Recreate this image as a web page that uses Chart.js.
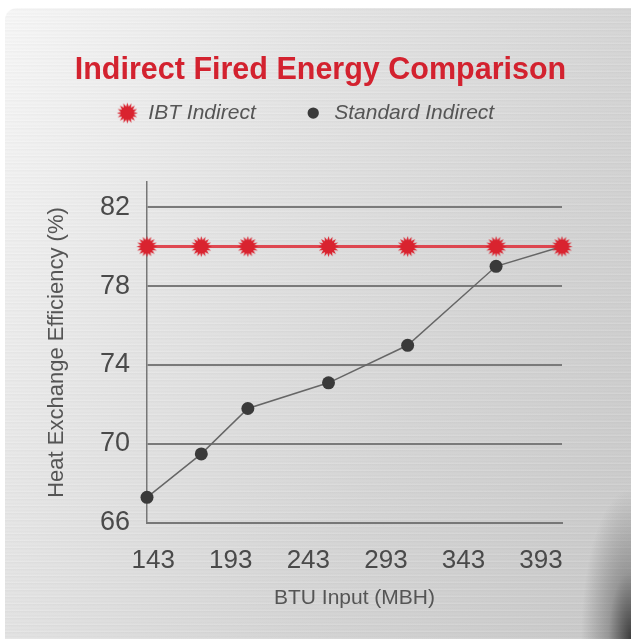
<!DOCTYPE html>
<html>
<head>
<meta charset="utf-8">
<script src="https://cdn.jsdelivr.net/npm/chart.js@4.4.0/dist/chart.umd.min.js"></script>
<style>
  html, body { margin: 0; padding: 0; width: 631px; height: 639px; background: #fff; overflow: hidden; }
  #panel {
    position: absolute; left: 5px; top: 8px; right: 0; bottom: 0;
    border-top-left-radius: 12px;
    background:
      radial-gradient(ellipse 50px 150px at 100% 100%, rgba(45,45,45,0.9) 0%, rgba(90,90,90,0.45) 45%, rgba(0,0,0,0) 100%),
      repeating-linear-gradient(0deg, rgba(255,255,255,0.10) 0px, rgba(255,255,255,0.10) 1px, rgba(0,0,0,0.025) 2px, rgba(0,0,0,0) 4px, rgba(0,0,0,0.03) 7px),
      linear-gradient(120deg, #f7f7f7 0%, #e4e4e4 35%, #d6d6d6 65%, #c9c9c9 100%);
  }
  #wrap { position: absolute; left: 0; top: 0; width: 631px; height: 639px; }
</style>
</head>
<body>
<div id="panel"></div>
<div id="wrap"><canvas id="chart" width="631" height="639"></canvas></div>
<script>
// data
const btuInput = [139, 174, 204, 256, 307, 364, 406.5];
const ibtEfficiency = [80, 80, 80, 80, 80, 80, 80];
const standardEfficiency = [67.3, 69.5, 71.8, 73.1, 75.0, 79.0, 80.0];
const xTicks = [143, 193, 243, 293, 343, 393];
const yTicks = [66, 70, 74, 78, 82];

const FONT = '"Liberation Sans Narrow", "Liberation Sans", Arial, sans-serif';
const TEXT = '#4a4a4a';

// red sunburst marker
function sunburst(r, color) {
  const c = document.createElement('canvas');
  const s = Math.ceil(r * 2 + 2);
  c.width = c.height = s;
  const g = c.getContext('2d');
  g.translate(s / 2, s / 2);
  g.beginPath();
  const n = 16;
  for (let i = 0; i < n * 2; i++) {
    const a = i * Math.PI / n;
    const rr = i % 2 ? r * 0.62 : r;
    g.lineTo(Math.cos(a) * rr, Math.sin(a) * rr);
  }
  g.closePath();
  g.fillStyle = color;
  g.fill();
  return c;
}
const star = sunburst(10.5, '#d9232f');

const TITLE_FONT = 30.5;
const TITLE_PAD = { top: 52, bottom: 5 };
const TITLE_H = TITLE_PAD.top + TITLE_FONT * 1.2 + TITLE_PAD.bottom;
const CHART_TOP = 182;
const LEGEND_DX = -15;
const LEGEND_DY = -38;

// legend height fills the gap down to the plot; legend nudged up and a bit left of the title
const legendGap = {
  id: 'legendGap',
  beforeInit(chart) {
    const fit = chart.legend.fit;
    chart.legend.fit = function () {
      fit.call(this);
      this.height = CHART_TOP - TITLE_H;
    };
  },
  afterLayout(chart) {
    const lg = chart.legend;
    lg.left += LEGEND_DX;
    lg.right += LEGEND_DX;
    lg.top += LEGEND_DY;
    lg.bottom += LEGEND_DY;
  }
};

const toPoints = ys => btuInput.map((x, i) => ({ x, y: ys[i] }));

new Chart(document.getElementById('chart'), {
  type: 'line',
  data: {
    datasets: [
      {
        label: 'IBT Indirect',
        data: toPoints(ibtEfficiency),
        borderColor: 'rgba(222,45,55,0.85)',
        backgroundColor: '#d9232f',
        borderWidth: 3,
        pointStyle: star,
        pointRadius: 10,
        pointHoverRadius: 10,
        tension: 0,
        clip: false
      },
      {
        label: 'Standard Indirect',
        data: toPoints(standardEfficiency),
        borderColor: '#666',
        backgroundColor: '#3a3a3a',
        borderWidth: 1.5,
        pointStyle: 'circle',
        pointRadius: 6.5,
        pointHoverRadius: 6.5,
        pointBackgroundColor: '#3a3a3a',
        pointBorderWidth: 0,
        tension: 0,
        clip: false
      }
    ]
  },
  options: {
    responsive: false,
    animation: false,
    layout: { padding: { left: 10, right: 0, top: 0, bottom: 0 } },
    plugins: {
      tooltip: { enabled: false },
      title: {
        display: true,
        text: 'Indirect Fired Energy Comparison',
        color: '#d3222f',
        font: { family: FONT, size: TITLE_FONT, weight: 'bold' },
        padding: TITLE_PAD
      },
      legend: {
        labels: {
          usePointStyle: true,
          boxHeight: 8,
          padding: 47,
          color: '#555',
          font: { family: FONT, size: 21, style: 'italic' },
          generateLabels(chart) {
            const items = Chart.defaults.plugins.legend.labels.generateLabels(chart);
            items.forEach(it => { it.lineWidth = 0; });
            return items;
          }
        }
      }
    },
    scales: {
      x: {
        type: 'linear',
        min: 139,
        max: 406.5,
        afterBuildTicks: s => { s.ticks = xTicks.map(v => ({ value: v })); },
        afterFit: s => { s.height = 116; },
        grid: { display: false, drawTicks: false },
        border: { display: true, color: '#777', width: 2 },
        ticks: { color: TEXT, font: { family: FONT, size: 26 }, padding: 22, maxRotation: 0, autoSkip: false },
        title: {
          display: true,
          text: 'BTU Input (MBH)',
          color: '#555',
          font: { family: FONT, size: 21 },
          padding: { top: 0, bottom: 28 }
        }
      },
      y: {
        min: 66,
        max: 83.27,
        afterBuildTicks: s => { s.ticks = yTicks.map(v => ({ value: v })); },
        afterFit: s => { s.width = 137; },
        grid: { color: '#7a7a7a', lineWidth: 2, drawTicks: false },
        border: { display: true, color: '#777', width: 1.5 },
        ticks: { color: TEXT, font: { family: FONT, size: 27 }, padding: 17 },
        title: {
          display: true,
          text: 'Heat Exchange Efficiency (%)',
          color: '#555',
          font: { family: FONT, size: 22 },
          padding: { top: 34, bottom: 0 }
        }
      },
      // empty right-hand axis that only reserves the margin right of the plot
      y2: {
        position: 'right',
        display: true,
        afterFit: s => { s.width = 69; },
        grid: { display: false, drawTicks: false },
        border: { display: false },
        ticks: { display: false }
      }
    }
  },
  plugins: [legendGap]
});
</script>
</body>
</html>
